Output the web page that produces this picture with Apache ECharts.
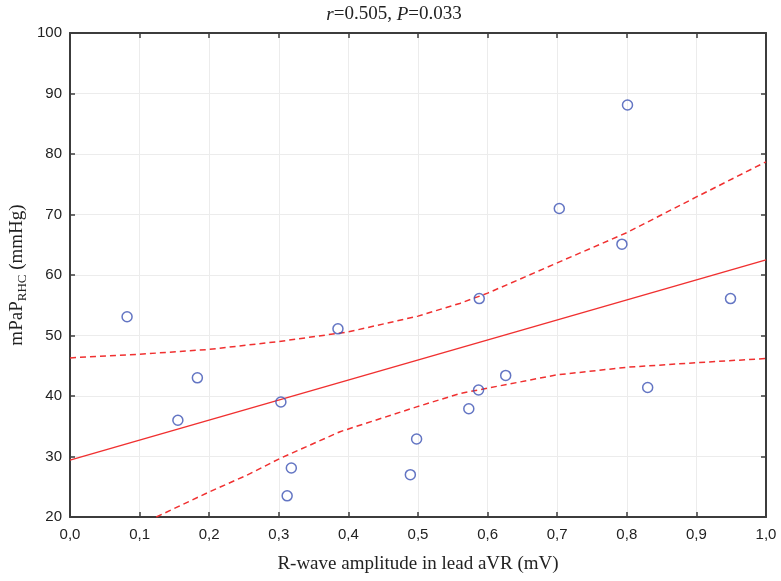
<!DOCTYPE html>
<html><head><meta charset="utf-8">
<script src="https://cdn.jsdelivr.net/npm/echarts@6/dist/echarts.min.js"></script>
<style>html,body{margin:0;padding:0;background:#fff}#c{width:781px;height:581px}</style>
</head><body><div id="c"></div>
<script>
// Data
var pointsX = [0.082, 0.155, 0.183, 0.303, 0.318, 0.312, 0.385, 0.498, 0.489, 0.573, 0.587, 0.588, 0.626, 0.703, 0.793, 0.801, 0.830, 0.949];
var pointsY = [53.1, 36.0, 43.0, 39.0, 28.1, 23.5, 51.1, 32.9, 27.0, 37.9, 41.0, 56.1, 43.4, 71.0, 65.1, 88.1, 41.4, 56.1];
var fitX = [0, 1];
var fitY = [29.4, 62.5];
var upperX = [0, 0.1, 0.2, 0.3, 0.4, 0.5, 0.56, 0.6, 0.7, 0.8, 0.9, 1.0];
var upperY = [46.3, 46.9, 47.7, 49.0, 50.6, 53.2, 55.3, 57.0, 62.0, 67.0, 72.9, 78.7];
var lowerX = [0.124, 0.201, 0.254, 0.302, 0.388, 0.498, 0.56, 0.6, 0.7, 0.8, 0.9, 1.0];
var lowerY = [20.0, 24.2, 26.9, 29.7, 34.1, 38.2, 40.4, 41.3, 43.5, 44.75, 45.5, 46.2];
var xTickLabels = ['0,0','0,1','0,2','0,3','0,4','0,5','0,6','0,7','0,8','0,9','1,0'];
var yTickLabels = ['20','30','40','50','60','70','80','90','100'];

function zip(a, b) { return a.map(function (v, i) { return [v, b[i]]; }); }

var axisCol = '#3c3c3c';
var serif = '"Liberation Serif", "DejaVu Serif", serif';
var sans = '"Liberation Sans", Arial, sans-serif';

var chart = echarts.init(document.getElementById('c'));
chart.setOption({
  animation: false,
  backgroundColor: '#fff',
  title: {
    text: '{i|r}{n|=0.505, }{i|P}{n|=0.033}',
    left: 389, top: 0, textAlign: 'center',
    textStyle: {
      rich: {
        i: { fontFamily: serif, fontStyle: 'italic', fontWeight: 'normal', fontSize: 19, color: '#222' },
        n: { fontFamily: serif, fontWeight: 'normal', fontSize: 19, color: '#222' }
      }
    }
  },
  grid: { left: 70, top: 33, right: 15, bottom: 64, containLabel: false, outerBoundsMode: 'none' },
  xAxis: [{
    type: 'value', min: 0, max: 1, interval: 0.1,
    name: 'R-wave amplitude in lead aVR (mV)', nameLocation: 'middle', nameGap: 38, nameMoveOverlap: false,
    nameTextStyle: { fontFamily: serif, fontSize: 19, color: '#222' },
    axisLine: { show: true, onZero: false, lineStyle: { color: axisCol, width: 2 } },
    axisTick: { show: true, inside: true, length: 5, lineStyle: { color: axisCol, width: 1.5 } },
    axisLabel: { fontFamily: sans, fontSize: 15, color: '#222', margin: 10,
      formatter: function (v) { return xTickLabels[Math.round(v * 10)]; } },
    splitLine: { show: true, lineStyle: { color: '#ececec', width: 1 } }
  }, {
    type: 'value', min: 0, max: 1, interval: 0.1, position: 'top',
    axisLine: { show: true, onZero: false, lineStyle: { color: axisCol, width: 2 } },
    axisTick: { show: true, inside: true, length: 5, lineStyle: { color: axisCol, width: 1.5 } },
    axisLabel: { show: false }, splitLine: { show: false }
  }],
  yAxis: [{
    type: 'value', min: 20, max: 100, interval: 10,
    name: '{m|mPaP}{s|RHC}{m| (mmHg)}', nameLocation: 'middle', nameGap: 41, nameRotate: 90, nameMoveOverlap: false,
    nameTextStyle: {
      rich: {
        m: { fontFamily: serif, fontSize: 19, color: '#222', lineHeight: 24, verticalAlign: 'middle' },
        s: { fontFamily: serif, fontSize: 13, color: '#222', lineHeight: 24, verticalAlign: 'bottom' }
      }
    },
    axisLine: { show: true, onZero: false, lineStyle: { color: axisCol, width: 2 } },
    axisTick: { show: true, inside: true, length: 5, lineStyle: { color: axisCol, width: 1.5 } },
    axisLabel: { fontFamily: sans, fontSize: 15, color: '#222', margin: 8,
      formatter: function (v) { return yTickLabels[Math.round((v - 20) / 10)]; } },
    splitLine: { show: true, lineStyle: { color: '#ececec', width: 1 } }
  }, {
    type: 'value', min: 20, max: 100, interval: 10, position: 'right',
    axisLine: { show: true, onZero: false, lineStyle: { color: axisCol, width: 2 } },
    axisTick: { show: true, inside: true, length: 5, lineStyle: { color: axisCol, width: 1.5 } },
    axisLabel: { show: false }, splitLine: { show: false }
  }],
  series: [{
    type: 'line', data: zip(upperX, upperY), showSymbol: false, symbol: 'none',
    lineStyle: { color: '#f03030', width: 1.5, type: [6, 4] }, z: 2
  }, {
    type: 'line', data: zip(lowerX, lowerY), showSymbol: false, symbol: 'none',
    lineStyle: { color: '#f03030', width: 1.5, type: [6, 4] }, z: 2
  }, {
    type: 'line', data: zip(fitX, fitY), showSymbol: false, symbol: 'none',
    lineStyle: { color: '#f03030', width: 1.5 }, z: 2
  }, {
    type: 'scatter', data: zip(pointsX, pointsY), symbol: 'circle', symbolSize: 10,
    itemStyle: { color: 'rgba(255,255,255,0)', borderColor: '#3c52b4', borderWidth: 1.5 }, z: 3
  }]
});
</script></body></html>
